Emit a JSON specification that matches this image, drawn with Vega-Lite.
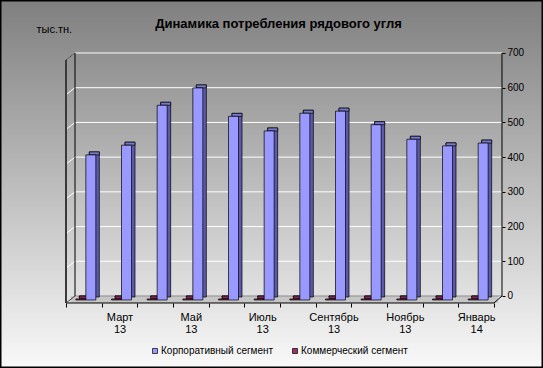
{
  "$schema": "https://vega.github.io/schema/vega-lite/v6.json",
  "width": 543,
  "height": 368,
  "padding": 0,
  "autosize": {"type": "none"},
  "background": "#c0c0c0",
  "config": {
    "font": "Liberation Sans",
    "view": {
      "fill": {"gradient": "linear", "x1": 0, "y1": 0, "x2": 0, "y2": 1, "stops": [{"offset": 0, "color": "#7f7f7f"}, {"offset": 1, "color": "#f9f9f9"}]},
      "stroke": "#000000",
      "strokeWidth": 3
    }
  },
  "title": {
    "text": "Динамика потребления рядового угля",
    "fontSize": 13,
    "fontWeight": "bold",
    "color": "#000000",
    "anchor": "middle",
    "offset": -31,
    "dx": 7
  },
  "data": {
    "values": [
      {"month": "Февраль 13", "series": "Корпоративный сегмент", "value": 418},
      {"month": "Март 13", "series": "Корпоративный сегмент", "value": 446},
      {"month": "Апрель 13", "series": "Корпоративный сегмент", "value": 561},
      {"month": "Май 13", "series": "Корпоративный сегмент", "value": 611},
      {"month": "Июнь 13", "series": "Корпоративный сегмент", "value": 529},
      {"month": "Июль 13", "series": "Корпоративный сегмент", "value": 487},
      {"month": "Август 13", "series": "Корпоративный сегмент", "value": 538},
      {"month": "Сентябрь 13", "series": "Корпоративный сегмент", "value": 544},
      {"month": "Октябрь 13", "series": "Корпоративный сегмент", "value": 505},
      {"month": "Ноябрь 13", "series": "Корпоративный сегмент", "value": 463},
      {"month": "Декабрь 13", "series": "Корпоративный сегмент", "value": 444},
      {"month": "Январь 14", "series": "Корпоративный сегмент", "value": 452},
      {"month": "Февраль 13", "series": "Коммерческий сегмент", "value": 3},
      {"month": "Март 13", "series": "Коммерческий сегмент", "value": 3},
      {"month": "Апрель 13", "series": "Коммерческий сегмент", "value": 3},
      {"month": "Май 13", "series": "Коммерческий сегмент", "value": 3},
      {"month": "Июнь 13", "series": "Коммерческий сегмент", "value": 3},
      {"month": "Июль 13", "series": "Коммерческий сегмент", "value": 3},
      {"month": "Август 13", "series": "Коммерческий сегмент", "value": 3},
      {"month": "Сентябрь 13", "series": "Коммерческий сегмент", "value": 3},
      {"month": "Октябрь 13", "series": "Коммерческий сегмент", "value": 3},
      {"month": "Ноябрь 13", "series": "Коммерческий сегмент", "value": 3},
      {"month": "Декабрь 13", "series": "Коммерческий сегмент", "value": 3},
      {"month": "Январь 14", "series": "Коммерческий сегмент", "value": 3}
    ]
  },
  "layer": [
    {
      "data": {"values": [{"g": 100}, {"g": 200}, {"g": 300}, {"g": 400}, {"g": 500}, {"g": 600}, {"g": 700}]},
      "mark": {"type": "rule", "color": "#ffffff", "strokeWidth": 1, "xOffset": -8.83, "x2Offset": 25.83},
      "encoding": {
        "x": {"datum": "Февраль 13", "type": "nominal",
          "scale": {"domain": ["Февраль 13", "Март 13", "Апрель 13", "Май 13", "Июнь 13", "Июль 13", "Август 13", "Сентябрь 13", "Октябрь 13", "Ноябрь 13", "Декабрь 13", "Январь 14"], "range": [66, 494], "paddingInner": 0, "paddingOuter": 0},
          "axis": {"orient": "bottom", "offset": -65, "domain": false, "grid": false, "tickBand": "extent", "tickSize": 4, "tickColor": "#000000", "labelPadding": 4, "labelAngle": 0, "labelFontSize": 11, "labelLineHeight": 12, "labelColor": "#000000", "title": null,
            "labelExpr": "indexof(['Март 13','Май 13','Июль 13','Сентябрь 13','Ноябрь 13','Январь 14'], datum.value) >= 0 ? split(datum.value, ' ') : ''"}},
        "x2": {"datum": "Январь 14"},
        "y": {"field": "g", "type": "quantitative",
          "scale": {"domain": [-207.41, 852.67], "nice": false, "zero": false},
          "axis": {"orient": "right", "offset": -41, "domain": false, "grid": false, "values": [0, 100, 200, 300, 400, 500, 600, 700], "format": "d", "tickSize": 3, "tickColor": "#000000", "labelPadding": 2, "labelFontSize": 10, "labelColor": "#000000",
            "title": "тыс.тн.", "titleAngle": 0, "titleX": -466, "titleY": 32, "titleAlign": "left", "titleBaseline": "alphabetic", "titleFontSize": 11, "titleFontWeight": "normal", "titleColor": "#000000"}}
      }
    },
    {
      "data": {"values": [{"g": 100}, {"g": 200}, {"g": 300}, {"g": 400}, {"g": 500}, {"g": 600}, {"g": 700}]},
      "mark": {"type": "rule", "color": "#ffffff", "strokeWidth": 1, "xOffset": -17.83, "x2Offset": -8.83, "yOffset": 7},
      "encoding": {
        "x": {"datum": "Февраль 13", "type": "nominal"},
        "x2": {"datum": "Февраль 13"},
        "y": {"field": "g", "type": "quantitative"},
        "y2": {"field": "g"}
      }
    },
    {
      "data": {"values": [{}]},
      "mark": {"type": "rule", "color": "#c6c6c6", "strokeWidth": 7, "strokeCap": "butt", "xOffset": -13.33, "x2Offset": 21.83, "yOffset": 3.5},
      "encoding": {
        "x": {"datum": "Февраль 13", "type": "nominal"},
        "x2": {"datum": "Январь 14"},
        "y": {"datum": 0, "type": "quantitative"}
      }
    },
    {
      "data": {"values": [{}]},
      "mark": {"type": "rule", "color": "#8c8c8c", "strokeWidth": 1, "xOffset": -8.83, "x2Offset": 25.83},
      "encoding": {
        "x": {"datum": "Февраль 13", "type": "nominal"},
        "x2": {"datum": "Январь 14"},
        "y": {"datum": 0, "type": "quantitative"}
      }
    },
    {
      "data": {"values": [{}]},
      "mark": {"type": "rule", "color": "#000000", "strokeWidth": 1, "xOffset": -17.83, "x2Offset": 17.83, "yOffset": 7},
      "encoding": {
        "x": {"datum": "Февраль 13", "type": "nominal"},
        "x2": {"datum": "Январь 14"},
        "y": {"datum": 0, "type": "quantitative"}
      }
    },
    {
      "data": {"values": [{}]},
      "mark": {"type": "rule", "color": "#000000", "strokeWidth": 1, "xOffset": 17.83, "x2Offset": 25.83, "yOffset": 7},
      "encoding": {
        "x": {"datum": "Январь 14", "type": "nominal"},
        "x2": {"datum": "Январь 14"},
        "y": {"datum": 0, "type": "quantitative"},
        "y2": {"datum": 0}
      }
    },
    {
      "data": {"values": [{}]},
      "mark": {"type": "rule", "color": "#404040", "strokeWidth": 1, "xOffset": -17.83, "x2Offset": -8.83, "yOffset": 7},
      "encoding": {
        "x": {"datum": "Февраль 13", "type": "nominal"},
        "x2": {"datum": "Февраль 13"},
        "y": {"datum": 0, "type": "quantitative"},
        "y2": {"datum": 0}
      }
    },
    {
      "data": {"values": [{}]},
      "mark": {"type": "rule", "color": "#3a3a3a", "strokeWidth": 2, "xOffset": -17.83, "yOffset": 7, "y2Offset": 7},
      "encoding": {
        "x": {"datum": "Февраль 13", "type": "nominal"},
        "y": {"datum": 700, "type": "quantitative"},
        "y2": {"datum": 0}
      }
    },
    {
      "data": {"values": [{}]},
      "mark": {"type": "rule", "color": "#000000", "strokeWidth": 1, "xOffset": -8.83},
      "encoding": {
        "x": {"datum": "Февраль 13", "type": "nominal"},
        "y": {"datum": 700, "type": "quantitative"},
        "y2": {"datum": 0}
      }
    },
    {
      "data": {"values": [{}]},
      "mark": {"type": "rule", "color": "#3a3a3a", "strokeWidth": 1, "xOffset": -17.83, "x2Offset": -8.83, "yOffset": 7},
      "encoding": {
        "x": {"datum": "Февраль 13", "type": "nominal"},
        "x2": {"datum": "Февраль 13"},
        "y": {"datum": 700, "type": "quantitative"},
        "y2": {"datum": 700}
      }
    },
    {
      "data": {"values": [{}]},
      "mark": {"type": "rule", "color": "#000000", "strokeWidth": 1, "xOffset": 25.83},
      "encoding": {
        "x": {"datum": "Январь 14", "type": "nominal"},
        "y": {"datum": 700, "type": "quantitative"},
        "y2": {"datum": 0}
      }
    },
    {
      "transform": [{"filter": "datum.series === 'Коммерческий сегмент'"}],
      "mark": {"type": "bar", "width": 10, "xOffset": 0.5, "yOffset": 1, "y2Offset": 1, "fill": "#5c1f3d", "stroke": "#000000", "strokeWidth": 0.7},
      "encoding": {
        "x": {"field": "month", "type": "nominal", "sort": null},
        "y": {"field": "value", "type": "quantitative"},
        "y2": {"datum": 0}
      }
    },
    {
      "transform": [{"filter": "datum.series === 'Коммерческий сегмент'"}],
      "mark": {"type": "bar", "width": 10, "xOffset": 0.5, "yOffset": 1, "y2Offset": 4, "fill": "#7a2952", "stroke": "#000000", "strokeWidth": 0.7},
      "encoding": {
        "x": {"field": "month", "type": "nominal", "sort": null},
        "y": {"field": "value", "type": "quantitative"},
        "y2": {"field": "value"}
      }
    },
    {
      "transform": [{"filter": "datum.series === 'Коммерческий сегмент'"}],
      "mark": {"type": "bar", "width": 10, "xOffset": -3, "yOffset": 4, "y2Offset": 4, "stroke": "#000000", "strokeWidth": 0.7, "opacity": 1},
      "encoding": {
        "x": {"field": "month", "type": "nominal", "sort": null},
        "y": {"field": "value", "type": "quantitative"},
        "y2": {"datum": 0},
        "color": {"field": "series", "type": "nominal",
          "scale": {"domain": ["Корпоративный сегмент", "Коммерческий сегмент"], "range": ["#9999ff", "#993366"]},
          "legend": {"orient": "none", "legendX": 150, "legendY": 346, "direction": "horizontal", "title": null, "symbolType": "square", "symbolSize": 25, "symbolStrokeColor": "#000000", "symbolStrokeWidth": 0.7, "labelFontSize": 10, "labelColor": "#000000", "labelOffset": 1, "columnPadding": 16, "padding": 0, "labelLimit": 300}}
      }
    },
    {
      "transform": [{"filter": "datum.series === 'Корпоративный сегмент'"}],
      "mark": {"type": "bar", "width": 10, "xOffset": 10.5, "yOffset": 1, "y2Offset": 1, "fill": "#5a5aa8", "stroke": "#000000", "strokeWidth": 0.7},
      "encoding": {
        "x": {"field": "month", "type": "nominal", "sort": null},
        "y": {"field": "value", "type": "quantitative"},
        "y2": {"datum": 0}
      }
    },
    {
      "transform": [{"filter": "datum.series === 'Корпоративный сегмент'"}],
      "mark": {"type": "bar", "width": 10, "xOffset": 10.5, "yOffset": 1, "y2Offset": 4, "fill": "#7878cc", "stroke": "#000000", "strokeWidth": 0.7},
      "encoding": {
        "x": {"field": "month", "type": "nominal", "sort": null},
        "y": {"field": "value", "type": "quantitative"},
        "y2": {"field": "value"}
      }
    },
    {
      "transform": [{"filter": "datum.series === 'Корпоративный сегмент'"}],
      "mark": {"type": "bar", "width": 10, "xOffset": 7, "yOffset": 4, "y2Offset": 4, "stroke": "#000000", "strokeWidth": 0.7, "opacity": 1},
      "encoding": {
        "x": {"field": "month", "type": "nominal", "sort": null},
        "y": {"field": "value", "type": "quantitative"},
        "y2": {"datum": 0},
        "color": {"field": "series", "type": "nominal"}
      }
    }
  ]
}
